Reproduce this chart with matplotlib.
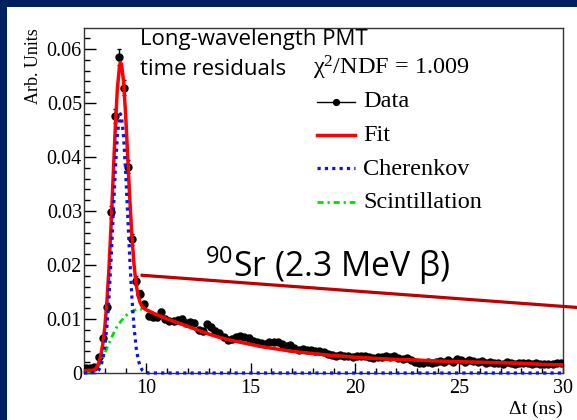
import numpy as np
import matplotlib
matplotlib.use("Agg")
import matplotlib.pyplot as plt
from matplotlib.patches import Rectangle
from matplotlib.lines import Line2D

# ---------------- data ----------------
bin_lo = 7.0
bin_w = 0.2
data_y = [
    0.0009, 0.0010, 0.0012, 0.0030, 0.0064, 0.0122, 0.0299, 0.0476, 0.0586, 0.0528,
    0.0382, 0.0248, 0.0171, 0.0147, 0.0127, 0.0106, 0.0103, 0.0104, 0.0113, 0.0100,
    0.0097, 0.0096, 0.0098, 0.0100, 0.0092, 0.0094, 0.0093, 0.0080, 0.0078, 0.0090,
    0.0085, 0.0078, 0.0074, 0.0066, 0.0062, 0.0063, 0.0066, 0.0068, 0.0066, 0.0065,
    0.0060, 0.0058, 0.0056, 0.0054, 0.0058, 0.0057, 0.0058, 0.0053, 0.0050, 0.0052,
    0.0046, 0.0043, 0.0044, 0.0042, 0.0043, 0.0040, 0.0041, 0.0039, 0.0035, 0.0034,
    0.0032, 0.0033, 0.0031, 0.0032, 0.0030, 0.0031, 0.0032, 0.0031, 0.0029, 0.0028,
    0.0030, 0.0029, 0.0031, 0.0030, 0.0031, 0.0027, 0.0026, 0.0028, 0.0025, 0.0021,
    0.0018, 0.0019, 0.0020, 0.0018, 0.0021, 0.0022, 0.0020, 0.0024, 0.0021, 0.0026,
    0.0025, 0.0021, 0.0024, 0.0022, 0.0020, 0.0022, 0.0019, 0.0021, 0.0018, 0.0019,
    0.0017, 0.0020, 0.0018, 0.0017, 0.0018, 0.0019, 0.0018, 0.0016, 0.0018, 0.0017,
    0.0016, 0.0017, 0.0016, 0.0018, 0.0019,
]
data_err = [
    0.0002, 0.0002, 0.0002, 0.0003, 0.0005, 0.0007, 0.0011, 0.0013, 0.0015, 0.0014,
    0.0012, 0.0010, 0.0008, 0.0007, 0.0007, 0.0006, 0.0005, 0.0005, 0.0005, 0.0005,
    0.0005, 0.0005, 0.0005, 0.0005, 0.0005, 0.0005, 0.0005, 0.0005, 0.0005, 0.0005,
    0.0005, 0.0005, 0.0005, 0.0005, 0.0005, 0.0005, 0.0005, 0.0005, 0.0005, 0.0005,
    0.0004, 0.0004, 0.0004, 0.0004, 0.0004, 0.0004, 0.0004, 0.0004, 0.0004, 0.0004,
    0.0004, 0.0004, 0.0004, 0.0004, 0.0004, 0.0004, 0.0004, 0.0004, 0.0004, 0.0004,
    0.0004, 0.0004, 0.0004, 0.0004, 0.0004, 0.0004, 0.0004, 0.0004, 0.0004, 0.0004,
    0.0004, 0.0004, 0.0004, 0.0004, 0.0004, 0.0003, 0.0003, 0.0003, 0.0003, 0.0003,
    0.0003, 0.0003, 0.0003, 0.0003, 0.0003, 0.0003, 0.0003, 0.0003, 0.0003, 0.0003,
    0.0003, 0.0003, 0.0003, 0.0003, 0.0003, 0.0003, 0.0003, 0.0003, 0.0003, 0.0003,
    0.0003, 0.0003, 0.0003, 0.0003, 0.0003, 0.0003, 0.0003, 0.0003, 0.0003, 0.0003,
    0.0003, 0.0003, 0.0003, 0.0003, 0.0003,
]

fit_x = [7.0, 7.2, 7.4, 7.5, 7.6, 7.7, 7.8, 7.9, 8.0, 8.1, 8.2, 8.3, 8.4, 8.5,
         8.6, 8.7, 8.75, 8.8, 8.9, 9.0, 9.1, 9.2, 9.3, 9.4, 9.5, 9.6, 9.7, 9.8,
         9.9, 10.0, 10.5, 11.0, 11.5, 12.0, 12.5, 13.0, 13.5, 14.0, 14.5, 15.0,
         15.5, 16.0, 16.5, 17.0, 17.5, 18.0, 18.5, 19.0, 19.5, 20.0, 21.0, 22.0,
         23.0, 24.0, 25.0, 26.0, 27.0, 28.0, 29.0, 30.0]
fit_y = [0.0004, 0.0005, 0.0005, 0.0006, 0.0010, 0.0018, 0.0031, 0.0053, 0.0085,
         0.0132, 0.0195, 0.0274, 0.0363, 0.0452, 0.0525, 0.0567, 0.0575, 0.0572,
         0.0540, 0.0478, 0.0400, 0.0322, 0.0254, 0.0202, 0.0165, 0.0143, 0.0130,
         0.0123, 0.0119, 0.0117, 0.0108, 0.0100, 0.0093, 0.0086, 0.0079, 0.0072,
         0.0066, 0.0061, 0.0057, 0.0053, 0.0049, 0.0046, 0.0043, 0.0040, 0.0038,
         0.0036, 0.0034, 0.0032, 0.0031, 0.0029, 0.0027, 0.0025, 0.0024, 0.0022,
         0.0021, 0.0020, 0.0019, 0.0018, 0.0016, 0.0015]

cher_x = [7.0, 7.5, 7.6, 7.7, 7.8, 7.9, 8.0, 8.1, 8.2, 8.3, 8.4, 8.5, 8.6, 8.7,
          8.75, 8.8, 8.9, 9.0, 9.1, 9.2, 9.3, 9.4, 9.5, 9.6, 9.7, 9.8, 9.9, 10.0,
          10.1, 30.0]
cher_y = [0.0, 0.0001, 0.0002, 0.0005, 0.0012, 0.0025, 0.0048, 0.0086, 0.0140,
          0.0210, 0.0291, 0.0372, 0.0438, 0.0475, 0.0480, 0.0475, 0.0438, 0.0372,
          0.0291, 0.0210, 0.0140, 0.0086, 0.0048, 0.0025, 0.0012, 0.0005, 0.0002,
          0.0001, 0.0, 0.0]

scint_x = [7.0, 7.2, 7.4, 7.6, 7.8, 7.9, 8.0, 8.2, 8.4, 8.6, 8.8, 9.0, 9.2, 9.4,
           9.6, 9.8, 10.0, 10.5, 11.0, 11.5, 12.0, 12.5, 13.0, 13.5, 14.0, 14.5,
           15.0, 15.5, 16.0, 16.5, 17.0, 17.5, 18.0, 18.5, 19.0, 19.5, 20.0, 21.0,
           22.0, 23.0, 24.0, 25.0, 26.0, 27.0, 28.0, 29.0, 30.0]
scint_y = [0.0, 0.0001, 0.0003, 0.0008, 0.0019, 0.0028, 0.0037, 0.0055, 0.0072,
           0.0087, 0.0097, 0.0106, 0.0112, 0.0116, 0.0118, 0.0118, 0.0116, 0.0108,
           0.0100, 0.0093, 0.0086, 0.0079, 0.0072, 0.0066, 0.0061, 0.0057, 0.0053,
           0.0049, 0.0046, 0.0043, 0.0040, 0.0038, 0.0036, 0.0034, 0.0032, 0.0031,
           0.0029, 0.0027, 0.0025, 0.0024, 0.0022, 0.0021, 0.0020, 0.0019, 0.0018,
           0.0016, 0.0015]

x_ticks = [10, 15, 20, 25, 30]
x_ticklabels = ["10", "15", "20", "25", "30"]
y_ticks = [0.0, 0.01, 0.02, 0.03, 0.04, 0.05, 0.06]
y_ticklabels = ["0", "0.01", "0.02", "0.03", "0.04", "0.05", "0.06"]
legend_labels = ["Data", "Fit", "Cherenkov", "Scintillation"]

# annotation arrow line (data coords, extends past the frame)
ann_line_x = [9.79, 30.82]
ann_line_y = [0.0181, 0.0121]

# ---------------- figure ----------------
W, H = 577, 420
plt.rcParams['font.family'] = ['Liberation Serif', 'DejaVu Serif']
plt.rcParams['mathtext.fontset'] = 'custom'

def fx(px):
    return px / W

def fy(py):
    return 1 - py / H

fig = plt.figure(figsize=(W / 100, H / 100), dpi=100, facecolor='#002060')
fig.patches.append(Rectangle((fx(7), 0), 1 - fx(7), fy(7), transform=fig.transFigure,
                             facecolor='white', edgecolor='none', zorder=-5))

ax = fig.add_axes([fx(84), fy(373), fx(563) - fx(84), fy(28) - fy(373)])
ax.set_facecolor('white')
ax.set_xlim(7, 30)
ax.set_ylim(0, 0.0639)

n = len(data_y)
data_x = bin_lo + bin_w * (np.arange(n) + 0.5)

ax.errorbar(data_x, data_y, yerr=data_err, xerr=bin_w / 2, fmt='o', color='black',
            ms=5.0, elinewidth=1.0, capsize=1.5, capthick=1.0, zorder=3)
ax.plot(scint_x, scint_y, color='#00e000', lw=2.0, linestyle=(0, (2.2, 1.4, 0.8, 1.4)),
        zorder=3.5)
ax.plot(fit_x, fit_y, color='#ff0000', lw=2.5, zorder=4, solid_joinstyle='round')
ax.plot(cher_x, cher_y, color='#0a14e6', lw=2.3, linestyle=(0, (1.0, 1.3)), zorder=5,
        clip_on=False)

ax.plot(ann_line_x, ann_line_y, color='#c00000', lw=2.3, clip_on=False, zorder=6)

for s in ax.spines.values():
    s.set_color('#333333')
    s.set_linewidth(1.0)

ax.set_xticks(x_ticks)
ax.set_xticklabels(x_ticklabels)
ax.set_xticks(np.arange(7, 31, 1), minor=True)
ax.set_yticks(y_ticks)
ax.set_yticklabels(y_ticklabels)
ax.set_yticks(np.arange(0, 0.0639, 0.002), minor=True)
ax.tick_params(axis='x', which='major', direction='in', length=7, width=1,
               labelsize=14.5, pad=4.5, top=False)
ax.tick_params(axis='x', which='minor', direction='in', length=3.6, width=1, top=False)
ax.tick_params(axis='y', which='major', direction='in', length=8.5, width=1,
               labelsize=14.5, pad=1.5, right=False)
ax.tick_params(axis='y', which='minor', direction='in', length=4.5, width=1, right=False)

# axis titles
fig.text(fx(33), fy(28), "Arb. Units", rotation=90, ha='center', va='top', fontsize=13)
fig.text(fx(563), fy(414), "Δt (ns)", ha='right', va='baseline', fontsize=14)

# annotations
sans = ['Open Sans', 'DejaVu Sans']
fig.text(fx(140), fy(45), "Long-wavelength PMT", family=sans, fontsize=16, va='baseline')
fig.text(fx(140), fy(75), "time residuals", family=sans, fontsize=16, va='baseline')
fig.text(fx(313), fy(75), "χ$\\mathregular{^{2}}$/NDF = 1.009", fontsize=17.5, va='baseline')
fig.text(fx(205), fy(277), "$\\mathregular{^{90}}$Sr (2.3 MeV β)", family=sans,
         fontsize=24.3, va='baseline')

# legend (manual, ROOT style)
leg_base = [107, 141, 175, 208]
leg_line = [102, 135, 168, 202]
styles = [
    dict(color='black', lw=1.0, marker='o', markevery=[1], ms=4.2),
    dict(color='#ff0000', lw=2.5),
    dict(color='#0a14e6', lw=2.3, linestyle=(0, (1.0, 1.3))),
    dict(color='#00e000', lw=2.0, linestyle=(0, (2.2, 1.4, 0.8, 1.4))),
]
for lab, yb, yl, st in zip(legend_labels, leg_base, leg_line, styles):
    fig.add_artist(Line2D([fx(317), fx(336), fx(355)], [fy(yl)] * 3,
                          transform=fig.transFigure, **st))
    fig.text(fx(363), fy(yb), lab, fontsize=17.5, va='baseline')

fig.savefig('out.png', dpi=100, facecolor=fig.get_facecolor())
